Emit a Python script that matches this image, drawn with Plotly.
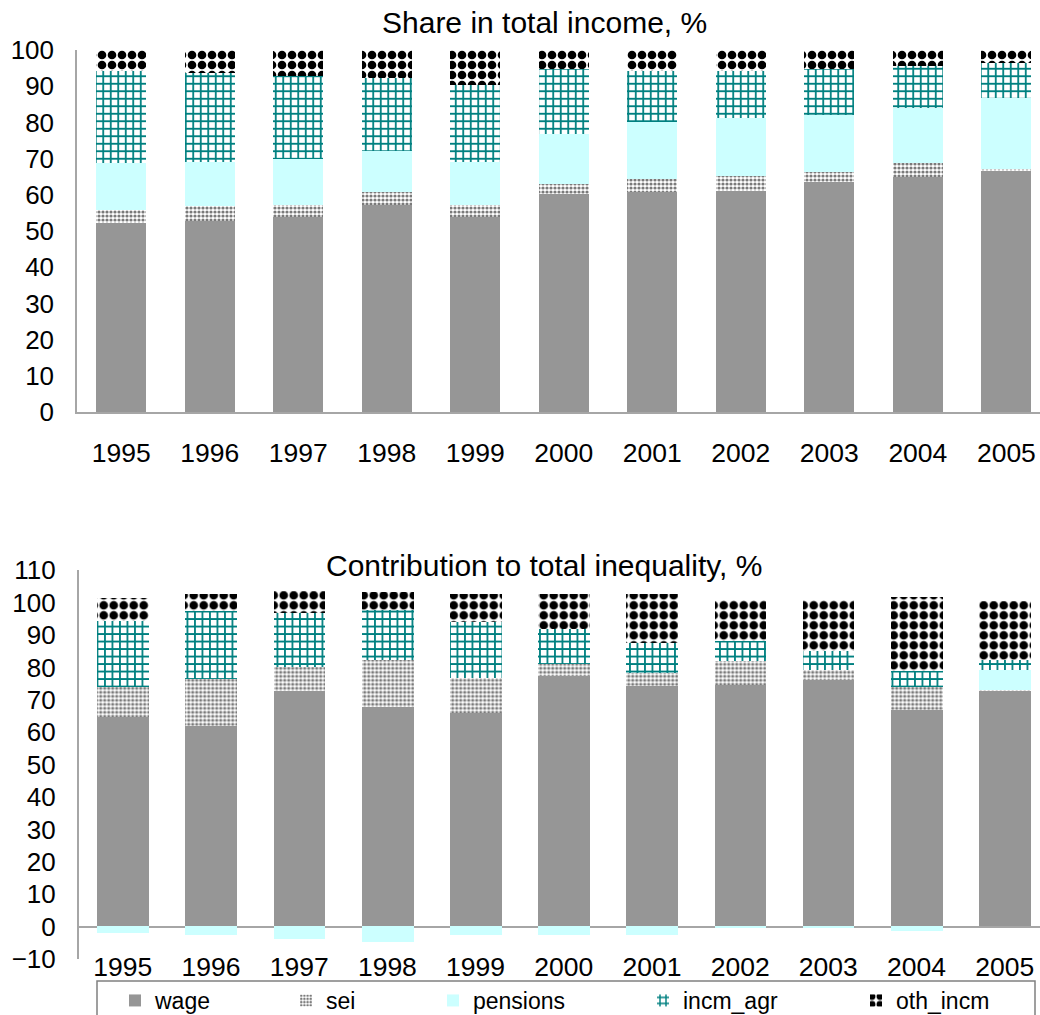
import plotly.graph_objects as go

# ---- data -------------------------------------------------------------
years = ["1995", "1996", "1997", "1998", "1999", "2000",
         "2001", "2002", "2003", "2004", "2005"]

# Share in total income, %
share_wage = [52.1, 52.8, 54.0, 57.3, 54.0, 60.1, 60.9, 61.0, 63.5, 65.0, 66.7]
share_sei = [3.7, 4.1, 3.3, 3.6, 3.3, 2.9, 3.6, 4.2, 2.8, 3.7, 0.4]
share_pensions = [12.9, 12.3, 12.7, 11.3, 11.9, 13.8, 15.7, 15.9, 15.8, 15.4, 19.7]
share_incm_agr = [25.6, 24.5, 22.8, 20.0, 21.2, 17.9, 14.1, 13.2, 12.6, 11.6, 9.7]
share_oth_incm = [5.7, 6.3, 7.2, 7.8, 9.6, 5.3, 5.7, 5.7, 5.3, 4.3, 3.5]

# Contribution to total inequality, %
contrib_wage = [64.5, 61.7, 72.7, 67.6, 65.9, 77.2, 74.1, 74.6, 75.9, 66.7, 72.7]
contrib_sei = [9.4, 14.7, 7.5, 14.7, 10.7, 3.9, 4.1, 7.2, 3.3, 7.1, 0.2]
contrib_pensions = [-2.1, -2.8, -3.8, -4.9, -2.5, -2.8, -2.6, -0.5, -0.5, -1.5, 6.3]
contrib_incm_agr = [20.4, 20.8, 16.4, 15.3, 17.4, 10.8, 9.2, 6.4, 5.7, 5.1, 3.0]
contrib_oth_incm = [7.1, 5.4, 6.9, 5.6, 8.6, 10.7, 15.2, 12.6, 15.9, 22.7, 18.3]

series_names = ["wage", "sei", "pensions", "incm_agr", "oth_incm"]
share_data = [share_wage, share_sei, share_pensions, share_incm_agr, share_oth_incm]
contrib_data = [contrib_wage, contrib_sei, contrib_pensions, contrib_incm_agr, contrib_oth_incm]

# ---- styling ----------------------------------------------------------
W, H = 1040, 1015
FONT = "Arial, 'Liberation Sans', sans-serif"
AXIS_GREY = "#a6a6a6"


def fx(p):
    return p / W


def fy(p):
    return 1 - p / H


fills = {
    "wage": dict(color="#969696"),
    "sei": dict(color="white",
                pattern=dict(shape=".", fgcolor="#7a7a7a", bgcolor="white",
                             size=4, solidity=0.5, fgopacity=1)),
    "pensions": dict(color="#ccffff"),
    "incm_agr": dict(color="white",
                     pattern=dict(shape="+", fgcolor="#008080", bgcolor="white",
                                  size=7.5, solidity=0.42, fgopacity=1)),
    "oth_incm": dict(color="white",
                     pattern=dict(shape=".", fgcolor="black", bgcolor="white",
                                  size=10, solidity=0.58, fgopacity=1)),
}
legend_widths = {"wage": 126, "sei": 102, "pensions": 165, "incm_agr": 168, "oth_incm": 100}

fig = go.Figure()

for name, vals in zip(series_names, share_data):
    fig.add_trace(go.Bar(
        x=years, y=vals, name=name, xaxis="x", yaxis="y",
        width=0.565, marker=dict(line=dict(width=0), **fills[name]),
        legendwidth=legend_widths[name], showlegend=True,
    ))

for name, vals in zip(series_names, contrib_data):
    fig.add_trace(go.Bar(
        x=years, y=vals, name=name, xaxis="x2", yaxis="y2",
        width=0.586, marker=dict(line=dict(width=0), **fills[name]),
        showlegend=False,
    ))

fig.update_layout(
    width=W, height=H,
    margin=dict(l=0, r=0, t=0, b=0, autoexpand=False),
    paper_bgcolor="white", plot_bgcolor="white",
    barmode="relative", bargap=0,
    font=dict(family=FONT, color="black"),
    xaxis=dict(domain=[fx(77), 1], range=[-0.5, 10.38], type="category",
               anchor="y", showline=True, linecolor=AXIS_GREY, linewidth=1.5,
               ticks="", showgrid=False, tickfont=dict(size=26.5),
               ticklabelstandoff=16),
    yaxis=dict(domain=[fy(412), fy(50)], range=[0, 100], dtick=10,
               anchor="x", showline=True, linecolor=AXIS_GREY, linewidth=1.5,
               ticks="", showgrid=False, zeroline=False,
               tickfont=dict(size=26), ticklabelstandoff=16),
    xaxis2=dict(domain=[fx(78.7), 1], range=[-0.5, 10.40], type="category",
                anchor="y2", showline=False, ticks="", showgrid=False,
                tickfont=dict(size=26.5), ticklabelstandoff=-11),
    yaxis2=dict(domain=[fy(959.1), fy(570.3)], range=[-10, 110], dtick=10,
                anchor="x2", showline=True, linecolor=AXIS_GREY, linewidth=1.5,
                ticks="", showgrid=False, zeroline=True,
                zerolinecolor=AXIS_GREY, zerolinewidth=1.5,
                tickfont=dict(size=26), ticklabelstandoff=16),
    legend=dict(orientation="h", x=fx(115), xanchor="left",
                y=fy(979), yanchor="top", font=dict(size=23),
                bgcolor="rgba(0,0,0,0)", borderwidth=0,
                itemclick=False, itemdoubleclick=False),
    annotations=[
        dict(text="Share in total income, %", xref="paper", yref="paper",
             x=fx(544), y=fy(23), xanchor="center", yanchor="middle",
             showarrow=False, font=dict(size=30)),
        dict(text="Contribution to total inequality, %", xref="paper", yref="paper",
             x=fx(544), y=fy(565), xanchor="center", yanchor="middle",
             showarrow=False, font=dict(size=30)),
    ],
    shapes=[
        dict(type="rect", xref="paper", yref="paper",
             x0=fx(97), x1=fx(1035), y0=fy(981), y1=fy(1022),
             line=dict(color="#808080", width=1.5), fillcolor="rgba(0,0,0,0)"),
    ],
)

fig.write_html("out.html")
